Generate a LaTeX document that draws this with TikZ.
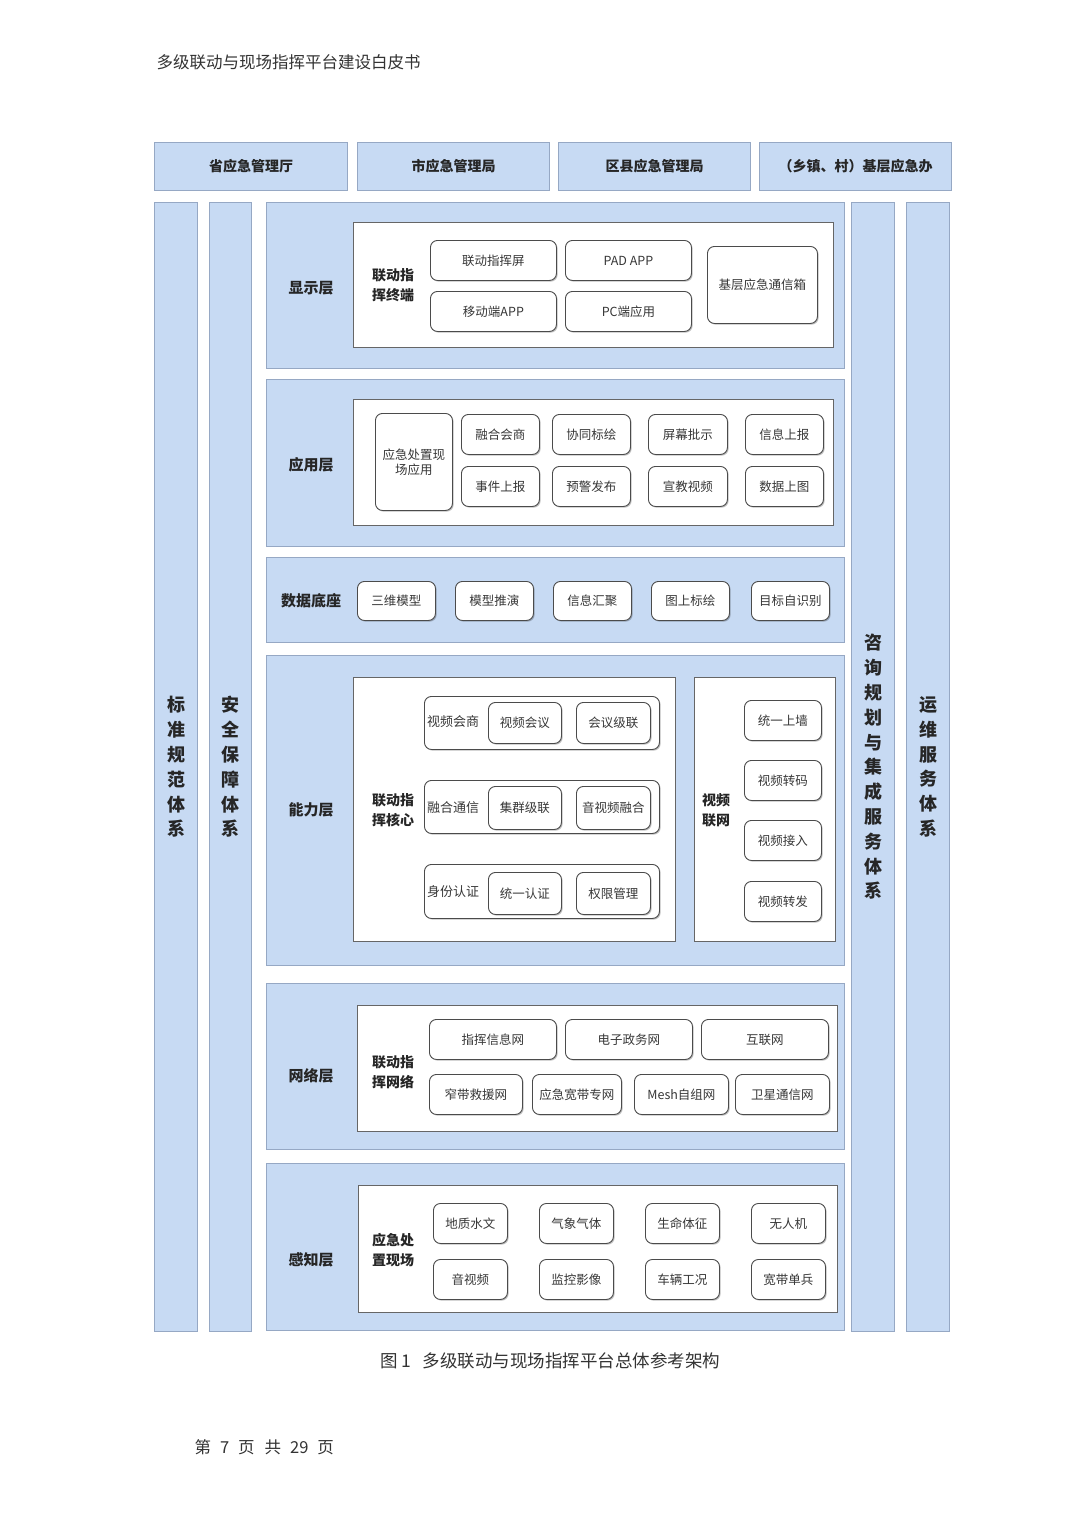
\documentclass[tikz,border=0pt]{standalone}
\usepackage{fontspec}
\newfontfamily\cjk{Noto Sans CJK SC}
\usetikzlibrary{shadows}
\definecolor{panel}{RGB}{199,218,243}
\definecolor{pline}{RGB}{150,168,196}
\definecolor{bline}{RGB}{75,75,75}
\definecolor{txt}{RGB}{55,55,55}
\tikzset{
  panelbox/.style={draw=pline, fill=panel, line width=1pt, inner sep=0pt,
    font=\cjk\bfseries\fontsize{14}{17}\selectfont, text=black!85},
  whitebox/.style={draw=bline!85, fill=white, line width=1pt, inner sep=0pt},
  rbox/.style={draw=bline, fill=white, rounded corners=7pt, line width=0.9pt,
    inner sep=0pt, align=center, text=txt,
    font=\cjk\fontsize{12.5}{15}\selectfont,
    drop shadow={shadow xshift=1.2pt, shadow yshift=-1.2pt, opacity=0.25, fill=black}},
  lab/.style={font=\cjk\bfseries\fontsize{15}{18}\selectfont, text=black!85, align=center},
  sublab/.style={font=\cjk\bfseries\fontsize{14}{20}\selectfont, text=black!85, align=center},
  grplab/.style={font=\cjk\fontsize{13}{15}\selectfont, text=txt},
  vlab/.style={font=\cjk\bfseries\fontsize{18}{24.8}\selectfont, text=black!85, align=center},
  doctext/.style={font=\cjk\fontsize{16.5}{20}\selectfont, text=black!80},
}
% style, name, x1, y1, x2, y2, text
\newcommand\PB[7]{\node[#1, minimum width={(#5-#3)*1pt}, minimum height={(#6-#4)*1pt}, anchor=north west] (#2) at (#3,#4) {#7};}
% name, x1, y1, x2, y2, text
\newcommand\RB[6]{\node[rbox, minimum width={(#4-#2)*1pt}, minimum height={(#5-#3)*1pt}, anchor=north west] (#1) at (#2,#3) {#6};}
\begin{document}
\begin{tikzpicture}[x=1pt,y=-1pt]
\useasboundingbox (0,0) rectangle (1080,1528);
\fill[white] (0,0) rectangle (1080,1528);

% document texts
\node[doctext, anchor=west] (hdr) at (153,62) {多级联动与现场指挥平台建设白皮书};
\node[doctext, anchor=west, font=\cjk\fontsize{17.5}{20}\selectfont] (cap) at (377,1361) {图\hspace{3pt}1\hspace{12pt}多级联动与现场指挥平台总体参考架构};
\node[doctext, anchor=west, font=\cjk\fontsize{16.5}{20}\selectfont] (foot) at (191,1447) {第\hspace{9pt}7\hspace{9pt}页\hspace{10pt}共\hspace{9pt}29\hspace{9pt}页};

% top row
\PB{panelbox}{t1}{154}{142}{347}{190}{省应急管理厅}
\PB{panelbox}{t2}{357}{142}{549}{190}{市应急管理局}
\PB{panelbox}{t3}{558}{142}{750}{190}{区县应急管理局}
\PB{panelbox}{t4}{759}{142}{951}{190}{（乡镇、村）基层应急办}

% vertical bars
\PB{panelbox}{v1}{154}{202}{197}{1331}{}
\PB{panelbox}{v2}{209}{202}{251}{1331}{}
\PB{panelbox}{v3}{851}{202}{894}{1331}{}
\PB{panelbox}{v4}{906}{202}{949}{1331}{}
\node[vlab] (v1t) at (v1.center) {标\\准\\规\\范\\体\\系};
\node[vlab] (v2t) at (v2.center) {安\\全\\保\\障\\体\\系};
\node[vlab] (v3t) at (v3.center) {咨\\询\\规\\划\\与\\集\\成\\服\\务\\体\\系};
\node[vlab] (v4t) at (v4.center) {运\\维\\服\\务\\体\\系};

% ===== 显示层
\PB{panelbox}{L1}{266}{202}{844}{368}{}
\node[lab] (L1t) at (311,288) {显示层};
\PB{whitebox}{W1}{353}{222}{833}{347}{}
\node[sublab] (W1t) at (393,285) {联动指\\挥终端};
\RB{a1}{430}{240}{556}{280}{联动指挥屏}
\RB{a2}{565}{240}{691}{280}{PAD APP}
\RB{a3}{430}{291}{556}{331}{移动端APP}
\RB{a4}{565}{291}{691}{331}{PC端应用}
\RB{a5}{707}{246}{817}{323}{基层应急通信箱}

% ===== 应用层
\PB{panelbox}{L2}{266}{379}{844}{546}{}
\node[lab] (L2t) at (311,465) {应用层};
\PB{whitebox}{W2}{353}{399}{833}{525}{}
\RB{b0}{375}{413}{452}{510}{应急处置现\\场应用}
\RB{b1}{461}{414}{539}{454}{融合会商}
\RB{b2}{552}{414}{630}{454}{协同标绘}
\RB{b3}{648}{414}{727}{454}{屏幕批示}
\RB{b4}{745}{414}{823}{454}{信息上报}
\RB{b5}{461}{466}{539}{506}{事件上报}
\RB{b6}{552}{466}{630}{506}{预警发布}
\RB{b7}{648}{466}{727}{506}{宣教视频}
\RB{b8}{745}{466}{823}{506}{数据上图}

% ===== 数据底座
\PB{panelbox}{L3}{266}{557}{844}{642}{}
\node[lab] (L3t) at (311,601) {数据底座};
\RB{c1}{357}{581}{435}{620}{三维模型}
\RB{c2}{455}{581}{533}{620}{模型推演}
\RB{c3}{553}{581}{631}{620}{信息汇聚}
\RB{c4}{651}{581}{729}{620}{图上标绘}
\RB{c5}{751}{581}{829}{620}{目标自识别}

% ===== 能力层
\PB{panelbox}{L4}{266}{655}{844}{965}{}
\node[lab] (L4t) at (311,810) {能力层};
\PB{whitebox}{W4a}{353}{677}{675}{941}{}
\PB{whitebox}{W4b}{694}{677}{835}{941}{}
\node[sublab] (W4at) at (393,810) {联动指\\挥核心};
\RB{g1}{424}{696}{659}{749}{}
\node[grplab] (g1t) at (453,722) {视频会商};
\RB{d1}{488}{702}{561}{743}{视频会议}
\RB{d2}{576}{702}{650}{743}{会议级联}
\RB{g2}{424}{780}{659}{833}{}
\node[grplab] (g2t) at (453,808) {融合通信};
\RB{d3}{488}{786}{561}{829}{集群级联}
\RB{d4}{576}{786}{650}{829}{音视频融合}
\RB{g3}{424}{864}{659}{918}{}
\node[grplab] (g3t) at (453,892) {身份认证};
\RB{d5}{488}{872}{561}{914}{统一认证}
\RB{d6}{576}{872}{650}{914}{权限管理}
\node[sublab] (W4bt) at (716,810) {视频\\联网};
\RB{e1}{744}{700}{821}{740}{统一上墙}
\RB{e2}{744}{760}{821}{800}{视频转码}
\RB{e3}{744}{820}{821}{860}{视频接入}
\RB{e4}{744}{881}{821}{921}{视频转发}

% ===== 网络层
\PB{panelbox}{L5}{266}{983}{844}{1149}{}
\node[lab] (L5t) at (311,1076) {网络层};
\PB{whitebox}{W5}{357}{1005}{837}{1131}{}
\node[sublab] (W5t) at (393,1072) {联动指\\挥网络};
\RB{f1}{429}{1019}{556}{1059}{指挥信息网}
\RB{f2}{565}{1019}{692}{1059}{电子政务网}
\RB{f3}{701}{1019}{828}{1059}{互联网}
\RB{f4}{429}{1074}{522}{1114}{窄带救援网}
\RB{f5}{532}{1074}{621}{1114}{应急宽带专网}
\RB{f6}{634}{1074}{728}{1114}{Mesh自组网}
\RB{f7}{735}{1074}{829}{1114}{卫星通信网}

% ===== 感知层
\PB{panelbox}{L6}{266}{1163}{844}{1330}{}
\node[lab] (L6t) at (311,1260) {感知层};
\PB{whitebox}{W6}{358}{1185}{837}{1312}{}
\node[sublab] (W6t) at (393,1250) {应急处\\置现场};
\RB{h1}{433}{1203}{507}{1243}{地质水文}
\RB{h2}{539}{1203}{613}{1243}{气象气体}
\RB{h3}{645}{1203}{719}{1243}{生命体征}
\RB{h4}{751}{1203}{825}{1243}{无人机}
\RB{h5}{433}{1259}{507}{1299}{音视频}
\RB{h6}{539}{1259}{613}{1299}{监控影像}
\RB{h7}{645}{1259}{719}{1299}{车辆工况}
\RB{h8}{751}{1259}{825}{1299}{宽带单兵}
\end{tikzpicture}
\end{document}
